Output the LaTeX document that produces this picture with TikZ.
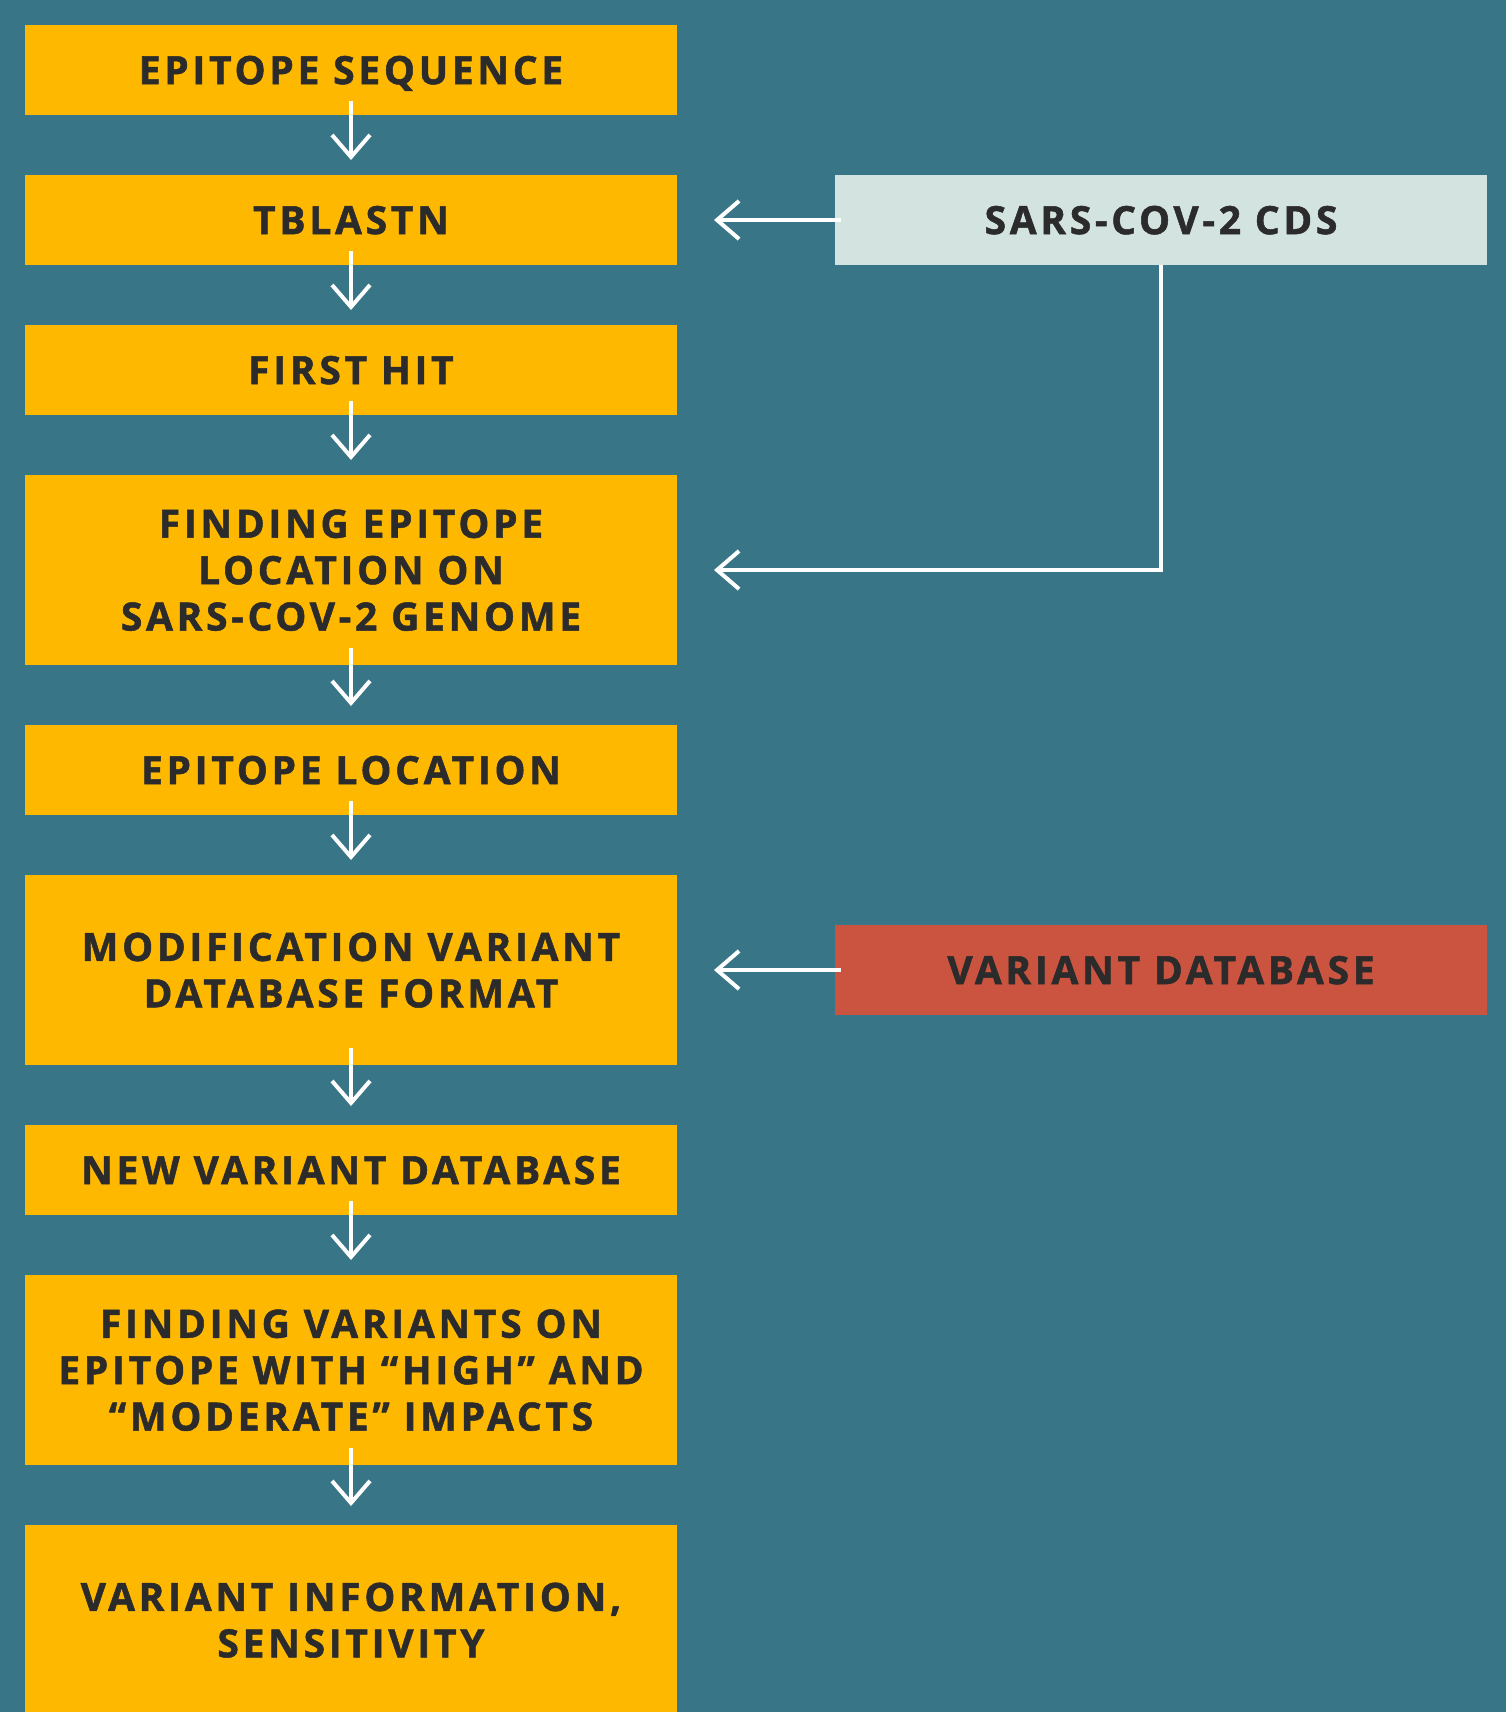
\documentclass[tikz,border=0pt]{standalone}
\usepackage{fontspec}
\setmainfont{Open Sans}[LetterSpace=9.5,BoldFeatures={FakeBold=1.3}]
\usetikzlibrary{arrows.meta,positioning}
\definecolor{bgteal}{HTML}{377587}
\definecolor{stepyellow}{HTML}{FFB800}
\definecolor{cdsgrey}{HTML}{D3E4E0}
\definecolor{dbred}{HTML}{CB5440}
\definecolor{inkdark}{HTML}{2B2B2B}

\begin{document}
\begin{tikzpicture}[font=\bfseries\fontsize{19.5}{23.2}\selectfont,node distance=30pt,>={Straight Barb[length=11pt,width=19pt]}]
  \tikzstyle{stage}=[fill=stepyellow,text=inkdark,minimum width=326pt,minimum height=45pt,align=center,text depth=0pt,inner sep=0pt,outer sep=0pt]
  \tikzstyle{tallstage}=[stage,minimum height=95pt]
  \tikzstyle{flow}=[->,white,line width=2pt]
  \useasboundingbox (0,0) rectangle (753pt,-856pt);
  \clip (0,0) rectangle (753pt,-856pt);
  \fill[bgteal] (0,0) rectangle (753pt,-856pt);
  % main pipeline
  \node[stage,anchor=north west] (seq) at (12.5pt,-12.5pt) {EPITOPE SEQUENCE};
  \node[stage,below=of seq] (tblastn) {TBLASTN};
  \node[stage,below=of tblastn] (firsthit) {FIRST HIT};
  \node[tallstage,below=of firsthit] (locate) {FINDING EPITOPE\\LOCATION ON\\SARS-COV-2 GENOME};
  \node[stage,below=of locate] (eploc) {EPITOPE LOCATION};
  \node[tallstage,below=of eploc] (modif) {MODIFICATION VARIANT\\DATABASE FORMAT};
  \node[stage,below=of modif] (newdb) {NEW VARIANT DATABASE};
  \node[tallstage,below=of newdb] (impacts) {FINDING VARIANTS ON\\EPITOPE WITH “HIGH” AND\\“MODERATE” IMPACTS};
  \node[tallstage,below=of impacts] (info) {VARIANT INFORMATION,\\SENSITIVITY};
  % inputs on the right
  \node[stage,fill=cdsgrey,right=79pt of tblastn] (cds) {SARS-COV-2 CDS};
  \node[stage,fill=dbred,right=79pt of modif] (vardb) {VARIANT DATABASE};
  % arrows
  \draw[flow] ([yshift=7pt]seq.south) -- ([yshift=7.5pt]tblastn.north);
  \draw[flow] ([yshift=7pt]tblastn.south) -- ([yshift=7.5pt]firsthit.north);
  \draw[flow] ([yshift=7pt]firsthit.south) -- ([yshift=7.5pt]locate.north);
  \draw[flow] ([yshift=8.5pt]locate.south) -- ([yshift=9.5pt]eploc.north);
  \draw[flow] ([yshift=7pt]eploc.south) -- ([yshift=7.5pt]modif.north);
  \draw[flow] ([yshift=8.5pt]modif.south) -- ([yshift=9.5pt]newdb.north);
  \draw[flow] ([yshift=7pt]newdb.south) -- ([yshift=7.5pt]impacts.north);
  \draw[flow] ([yshift=8.5pt]impacts.south) -- ([yshift=9.5pt]info.north);
  \draw[flow] ([xshift=3pt]cds.west) -- ([xshift=18.5pt]tblastn.east);
  \draw[flow] (cds.south) |- ([xshift=18.5pt]locate.east);
  \draw[flow] ([xshift=3pt]vardb.west) -- ([xshift=18.5pt]modif.east);
\end{tikzpicture}
\end{document}
